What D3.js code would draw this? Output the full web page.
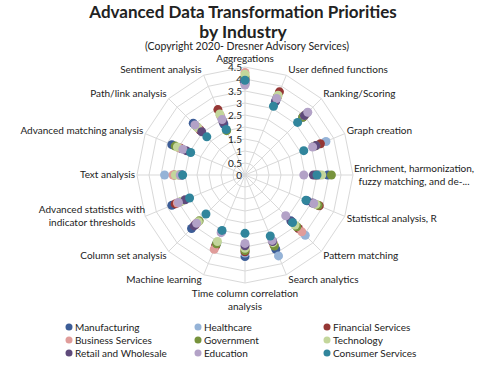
<!DOCTYPE html>
<html>
<head>
<meta charset="utf-8">
<script src="https://cdn.jsdelivr.net/npm/d3@7"></script>
<style>
  body { margin: 0; background: #fff; }
  svg text { font-family: Lato, "Open Sans", sans-serif; fill: #222; }
</style>
</head>
<body>
<div class="chart"></div>
<script>
// axes, clockwise from the top
var axes = ["Aggregations", "User defined functions", "Ranking/Scoring", "Graph creation",
  "Enrichment, harmonization,|fuzzy matching, and de-...", "Statistical analysis, R", "Pattern matching",
  "Search analytics", "Time column correlation|analysis", "Machine learning", "Column set analysis",
  "Advanced statistics with|indicator thresholds", "Text analysis", "Advanced matching analysis",
  "Path/link analysis", "Sentiment analysis"];

var ringTicks = [0, 0.5, 1, 1.5, 2, 2.5, 3, 3.5, 4, 4.5];

var industries = ["Manufacturing", "Healthcare", "Financial Services", "Business Services", "Government",
  "Technology", "Retail and Wholesale", "Education", "Consumer Services"];
var colors = ["#3c5d97", "#95b3d7", "#953735", "#e09c9a", "#77933c", "#c3d69b", "#5f4a7b", "#b3a2c7", "#31859c"];

var manufacturing = [3.9, 3.3, 3.4, 3.1, 3.45, 2.8, 2.7, 3.35, 3.4, 3.15, 3.15, 3.3, 2.62, 3.3, 3.05, 2.3];
var healthcare    = [4.0, 3.4, 3.65, 3.65, 3.1, 3.15, 3.55, 3.65, 3.25, 3.05, 2.85, 3.1, 3.35, 2.95, 2.7, 2.6];
var financial     = [4.0, 3.75, 3.45, 3.4, 2.95, 3.35, 3.15, 3.15, 3.2, 3.2, 2.9, 3.15, 2.95, 2.9, 2.65, 2.95];
var business      = [4.27, 3.55, 3.55, 3.15, 3.05, 3.2, 3.35, 3.1, 3.1, 3.35, 2.8, 3.05, 3.0, 3.0, 2.75, 2.7];
var government    = [4.1, 3.5, 3.4, 3.2, 3.6, 3.3, 3.05, 3.2, 3.15, 3.1, 2.7, 2.9, 2.75, 3.15, 2.85, 2.0];
var technology    = [4.2, 3.6, 3.5, 3.1, 3.2, 3.2, 2.95, 3.05, 3.05, 3.0, 2.75, 2.85, 2.9, 3.05, 2.8, 2.75];
var retail        = [3.8, 3.35, 3.5, 3.2, 2.85, 3.05, 2.75, 3.0, 2.95, 2.55, 3.0, 2.7, 2.65, 2.65, 2.55, 2.4];
var education     = [3.75, 3.45, 3.7, 3.05, 2.45, 3.1, 2.4, 2.95, 2.85, 2.6, 2.85, 3.0, 2.7, 2.8, 2.95, 2.5];
var consumer      = [3.95, 3.1, 3.1, 2.65, 3.0, 2.75, 2.8, 2.75, 2.43, 2.5, 2.3, 2.5, 2.6, 2.45, 2.25, 2.05];

var series = [manufacturing, healthcare, financial, business, government, technology, retail, education, consumer];

var cx = 245, cy = 175, R = 108;

var svg = d3.select(".chart").append("svg")
    .attr("width", 500)
    .attr("height", 370);

var r = d3.scaleLinear().domain([0, 4.5]).range([0, R]);
var angle = d3.scaleLinear().domain([0, axes.length]).range([0, 2 * Math.PI]);

function pt(i, v) {
  var a = angle(i);
  return [cx + r(v) * Math.sin(a), cy - r(v) * Math.cos(a)];
}

var grid = svg.append("g").attr("class", "grid");

// rings
ringTicks.slice(1).forEach(function(t) {
  var pts = axes.map(function(d, i) { return pt(i, t); });
  grid.append("polygon")
    .attr("points", pts.map(function(p) { return p.join(","); }).join(" "))
    .attr("fill", "none")
    .attr("stroke", "#d9d9d9")
    .attr("stroke-width", 1);
});

// spokes
axes.forEach(function(d, i) {
  var p = pt(i, 4.5);
  grid.append("line")
    .attr("x1", cx).attr("y1", cy)
    .attr("x2", p[0]).attr("y2", p[1])
    .attr("stroke", "#d9d9d9");
});

// ring labels
grid.selectAll(".tick")
  .data(ringTicks)
  .enter().append("text")
  .attr("x", cx - 3)
  .attr("y", function(d) { return cy - r(d) + 4; })
  .attr("text-anchor", "end")
  .style("font-size", "10px")
  .text(function(d) { return d; });

// axis labels
axes.forEach(function(d, i) {
  var a = angle(i);
  var p = pt(i, 4.5);
  var s = Math.sin(a), c = Math.cos(a);
  var lines = d.split("|");
  var anchor = Math.abs(s) < 0.01 ? "middle" : (s > 0 ? "start" : "end");
  var x = p[0] + (Math.abs(s) < 0.01 ? 0 : (s > 0 ? 2 : -2));
  var y = p[1] - c * 6 + 3;
  if (i == 0) y = p[1] - 5.5;
  if (i == 8) y = p[1] + 14;
  if (lines.length > 1 && i != 8) {
    anchor = "middle";
    x = s > 0 ? 414 : 92;
    y = p[1] - 3;
  }
  var t = svg.append("text")
    .attr("text-anchor", anchor)
    .style("font-size", "10px");
  lines.forEach(function(l, k) {
    t.append("tspan").attr("x", x).attr("y", y + k * 12.5).text(l);
  });
});

// markers
series.forEach(function(vals, si) {
  svg.append("g").selectAll("circle")
    .data(vals)
    .enter().append("circle")
    .attr("cx", function(v, i) { return pt(i, v)[0]; })
    .attr("cy", function(v, i) { return pt(i, v)[1]; })
    .attr("r", 4.5)
    .attr("fill", colors[si]);
});

// title
svg.append("text").attr("x", 243).attr("y", 18).attr("text-anchor", "middle")
  .style("font-size", "17px").style("font-weight", "bold").text("Advanced Data Transformation Priorities");
svg.append("text").attr("x", 243).attr("y", 38).attr("text-anchor", "middle")
  .style("font-size", "17.5px").style("font-weight", "bold").text("by Industry");
svg.append("text").attr("x", 247).attr("y", 49.5).attr("text-anchor", "middle")
  .style("font-size", "10.5px").text("(Copyright 2020- Dresner Advisory Services)");

// legend
var legX = [69, 198, 327], legY = [327, 340, 353];
var legend = svg.append("g").selectAll("g")
  .data(industries)
  .enter().append("g")
  .attr("transform", function(d, i) { return "translate(" + legX[i % 3] + "," + legY[Math.floor(i / 3)] + ")"; });
legend.append("circle").attr("r", 3.5).attr("fill", function(d, i) { return colors[i]; });
legend.append("text").attr("x", 6).attr("y", 3.5).style("font-size", "10px").text(function(d) { return d; });
</script>
</body>
</html>
